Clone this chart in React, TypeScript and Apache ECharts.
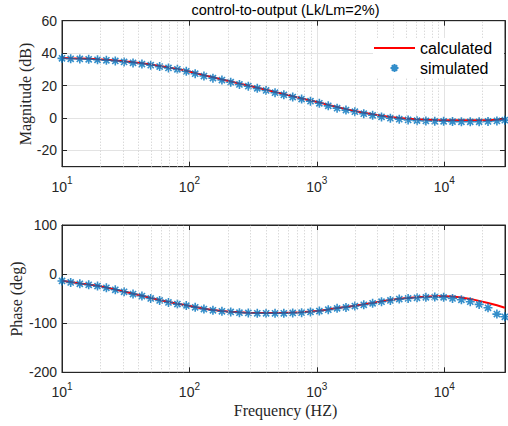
import React, { useEffect, useRef } from "react";
import * as echarts from "echarts";

// Frequencies (Hz) of the simulated points
const freq = [
  10, 11.7, 13.8, 16.2, 19.0, 22.3, 26.2, 30.7, 36.1, 42.4, 49.7, 58.4, 68.5, 80.5, 94.5,
  111, 130, 153, 180, 211, 247, 290, 341, 400, 470, 551, 647, 760, 892, 1047,
  1230, 1443, 1694, 1990, 2336, 2742, 3220, 3780, 4437, 5209, 6116, 7180, 8430, 9897,
  11620, 13640, 16010, 18800, 22070, 25910, 29900,
];

const magSim = [
  36.8, 36.5, 36.4, 36.2, 35.9, 35.6, 35.2, 34.6, 34.0, 33.3, 32.6, 31.7, 30.9, 30.0, 28.8,
  27.3, 25.9, 24.6, 23.4, 22.1, 20.7, 19.6, 18.3, 17.0, 15.6, 14.3, 12.9, 11.7, 10.4, 9.1,
  7.5, 6.1, 4.9, 3.9, 2.7, 1.7, 0.7, -0.1, -0.7, -1.2, -1.6, -1.8, -2.0, -2.0,
  -2.2, -2.3, -2.3, -2.3, -2.1, -1.8, -1.3,
];

const magCalc = [
  37.0, 36.8, 36.7, 36.5, 36.2, 35.9, 35.5, 35.0, 34.4, 33.7, 33.0, 32.1, 31.2, 30.3, 29.2,
  27.8, 26.4, 25.1, 23.8, 22.5, 21.2, 20.0, 18.7, 17.4, 16.1, 14.8, 13.4, 12.1, 10.8, 9.6,
  8.1, 6.8, 5.5, 4.4, 3.3, 2.3, 1.4, 0.6, 0.0, -0.4, -0.8, -1.0, -1.2, -1.3,
  -1.4, -1.4, -1.4, -1.4, -1.3, -1.1, -0.8,
];

const phaseSim = [
  -14.0, -16.9, -19.8, -21.8, -24.4, -27.9, -32.0, -36.0, -40.7, -44.8, -49.5, -53.6, -57.6, -61.1, -64.2,
  -67.6, -71.1, -73.7, -75.8, -77.1, -78.5, -79.2, -79.8, -79.8, -79.8, -79.8, -79.2, -78.5, -77.1, -75.2,
  -72.5, -69.8, -67.8, -65.1, -62.5, -59.6, -56.3, -53.6, -50.9, -49.5, -48.2, -47.4, -46.8, -47.4,
  -49.5, -52.3, -56.3, -61.7, -68.6, -81.5, -87.0,
];

const phaseCalc = [
  -13.5, -16.2, -19.0, -21.2, -23.8, -27.2, -31.3, -35.3, -40.0, -44.1, -48.8, -52.9, -56.9, -60.4, -63.6,
  -67.0, -70.4, -73.0, -75.1, -76.5, -77.8, -78.6, -79.1, -79.2, -79.1, -78.9, -78.4, -77.6, -76.3, -74.5,
  -71.9, -69.2, -67.0, -64.3, -61.6, -58.7, -55.5, -52.8, -50.2, -48.5, -47.2, -46.2, -45.3, -45.0,
  -45.8, -47.6, -50.5, -54.5, -58.8, -63.5, -68.5,
];

const magTicks = [-20, 0, 20, 40, 60];
const decades = [10, 100, 1000, 10000];
const freqMin = 10;
const freqMax = 30000;

const TITLE = "control-to-output (Lk/Lm=2%)";
const AXIS_COLOR = "#262626";
const SANS = "Liberation Sans, Arial, sans-serif";
const SERIF = "Liberation Serif, Times New Roman, serif";

const minorLines: number[] = [];
decades.forEach((d) => {
  for (let m = 2; m <= 9; m++) {
    if (d * m < freqMax) minorLines.push(d * m);
  }
});

const asterisk = "path://M5 0L5 10M0 5L10 5M1.6 1.6L8.4 8.4M1.6 8.4L8.4 1.6";

function xLabel(v: number) {
  const e = Math.log10(v);
  const r = Math.round(e);
  if (Math.abs(e - r) < 1e-6 && decades.indexOf(Math.pow(10, r)) >= 0) {
    return `{b|10}{s|${r}}`;
  }
  return "";
}

export default function App() {
  const ref = useRef<HTMLDivElement>(null);
  useEffect(() => {
    if (!ref.current) return;
    const chart = echarts.init(ref.current, undefined, { renderer: "svg" });
    const gridL = 62;
    const gridW = 448;
    const grids = [
      { left: gridL, top: 20.7, width: gridW, height: 146 },
      { left: gridL, top: 225, width: gridW, height: 147.3 },
    ];
    const xBottom = (gi: number) => ({
      gridIndex: gi,
      type: "log",
      logBase: 10,
      min: freqMin,
      max: freqMax,
      position: "bottom",
      axisLine: { show: true, onZero: false, lineStyle: { color: AXIS_COLOR, width: 1 } },
      axisTick: { show: true, inside: true, length: 5, lineStyle: { color: AXIS_COLOR } },
      axisLabel: {
        formatter: xLabel,
        margin: 9,
        rich: {
          b: { fontSize: 14, color: AXIS_COLOR, fontFamily: SANS, lineHeight: 18, verticalAlign: "bottom" },
          s: { fontSize: 10, color: AXIS_COLOR, fontFamily: SANS, verticalAlign: "top", lineHeight: 12 },
        },
      },
      splitLine: { show: true, lineStyle: { color: "#e3e3e3", width: 1 } },
    });
    const xTop = (gi: number) => ({
      gridIndex: gi,
      type: "log",
      logBase: 10,
      min: freqMin,
      max: freqMax,
      position: "top",
      axisLine: { show: true, onZero: false, lineStyle: { color: AXIS_COLOR, width: 1 } },
      axisTick: { show: true, inside: true, length: 5, lineStyle: { color: AXIS_COLOR } },
      axisLabel: { show: false },
      splitLine: { show: false },
    });
    const yBase = (gi: number, pos: string, showLabel: boolean, extra: any) => ({
      gridIndex: gi,
      type: "value",
      position: pos,
      axisLine: { show: true, onZero: false, lineStyle: { color: AXIS_COLOR, width: 1 } },
      axisTick: { show: true, inside: true, length: 5, lineStyle: { color: AXIS_COLOR }, ...(extra.tick || {}) },
      axisLabel: {
        show: showLabel,
        fontSize: 14,
        color: AXIS_COLOR,
        fontFamily: SANS,
        margin: 5,
        ...(extra.label || {}),
      },
      splitLine: { show: showLabel, lineStyle: { color: "#e3e3e3", width: 1 } },
      ...extra.scale,
    });
    const magScale = { min: -30, max: 60 };
    const phScale = { min: -200, max: 100, interval: 100 };
    const magExtra = {
      scale: magScale,
      tick: { customValues: magTicks },
      label: { customValues: magTicks },
    };
    const phExtra = { scale: phScale };

    const minorSeries = (xi: number, yi: number) => ({
      type: "line",
      xAxisIndex: xi,
      yAxisIndex: yi,
      data: [],
      silent: true,
      z: 1,
      markLine: {
        silent: true,
        symbol: "none",
        animation: false,
        label: { show: false },
        lineStyle: { color: "#cacaca", type: [1, 2], width: 1 },
        data: minorLines.map((v) => ({ xAxis: v })),
      },
    });

    const calcMag = freq.map((f, i) => [f, magCalc[i]]);
    const simMag = freq.map((f, i) => [f, magSim[i]]);
    const calcPh = freq.map((f, i) => [f, phaseCalc[i]]);
    const simPh = freq.map((f, i) => [f, phaseSim[i]]);

    const lineS = (name: string, xi: number, yi: number, data: any) => ({
      name,
      type: "line",
      xAxisIndex: xi,
      yAxisIndex: yi,
      data,
      symbol: "none",
      showSymbol: false,
      z: 3,
      lineStyle: { color: "#ff0000", width: 2 },
      itemStyle: { color: "#ff0000" },
    });
    const scatS = (name: string, xi: number, yi: number, data: any) => ({
      name,
      type: "scatter",
      xAxisIndex: xi,
      yAxisIndex: yi,
      data,
      symbol: asterisk,
      symbolSize: 9,
      z: 4,
      itemStyle: { color: "rgba(0,0,0,0)", borderColor: "#0072BD", borderWidth: 1.6 },
    });

    chart.setOption({
      animation: false,
      textStyle: { fontFamily: SANS },
      grid: grids.map((g) => ({ ...g, show: true, borderColor: AXIS_COLOR, borderWidth: 1, containLabel: false })),
      xAxis: [xBottom(0), xBottom(1), xTop(0), xTop(1)],
      yAxis: [
        yBase(0, "left", true, magExtra),
        yBase(1, "left", true, phExtra),
        yBase(0, "right", false, magExtra),
        yBase(1, "right", false, phExtra),
      ],
      legend: {
        data: [
          { name: "calculated", itemStyle: { opacity: 0, color: "rgba(0,0,0,0)", borderWidth: 0 } },
          { name: "simulated" },
        ],
        orient: "vertical",
        left: 373,
        top: 38,
        padding: [2, 12, 2, 0],
        backgroundColor: "#ffffff",
        itemWidth: 41,
        itemHeight: 8,
        itemGap: 4,
        z: 10,
        textStyle: { fontSize: 16, color: "#000", fontFamily: SANS },
      },
      graphic: [
        {
          type: "text",
          x: 285.5,
          y: 10,
          style: { text: TITLE, font: `14.5px ${SANS}`, fill: "#000", textAlign: "center", textVerticalAlign: "middle" },
        },
        {
          type: "text",
          x: 25.5,
          y: 94,
          rotation: Math.PI / 2,
          style: { text: "Magnitude (dB)", font: `16px ${SERIF}`, fill: AXIS_COLOR, textAlign: "center", textVerticalAlign: "middle" },
        },
        {
          type: "text",
          x: 16,
          y: 299,
          rotation: Math.PI / 2,
          style: { text: "Phase (deg)", font: `16px ${SERIF}`, fill: AXIS_COLOR, textAlign: "center", textVerticalAlign: "middle" },
        },
        {
          type: "text",
          x: 285.5,
          y: 410,
          style: { text: "Frequency (HZ)", font: `16px ${SERIF}`, fill: AXIS_COLOR, textAlign: "center", textVerticalAlign: "middle" },
        },
      ],
      series: [
        minorSeries(0, 0),
        minorSeries(1, 1),
        lineS("calculated", 0, 0, calcMag),
        scatS("simulated", 0, 0, simMag),
        lineS("calculated", 1, 1, calcPh),
        scatS("simulated", 1, 1, simPh),
      ],
    });
    return () => chart.dispose();
  }, []);
  return <div ref={ref} style={{ width: 508, height: 426, position: "absolute", left: 0, top: 0, background: "#fff" }} />;
}
